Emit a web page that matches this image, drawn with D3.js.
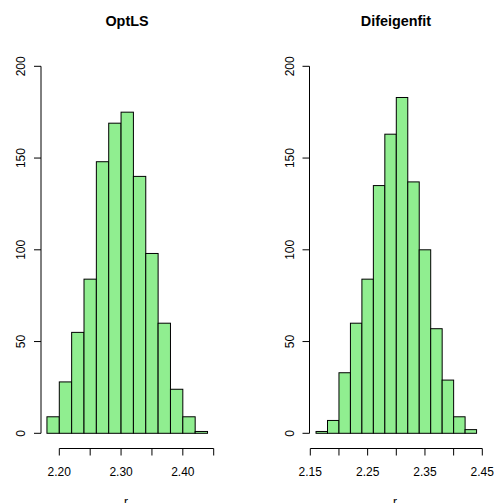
<!DOCTYPE html>
<html>
<head>
<meta charset="utf-8">
<script src="https://cdn.jsdelivr.net/npm/d3@7"></script>
<style>
  body { margin: 0; background: #fff; }
  text { font-family: "Liberation Sans", Arial, sans-serif; }
</style>
</head>
<body>
<svg id="chart" width="494" height="503"></svg>
<script>
// histogram counts (bin width 0.02)
var optlsStart = 2.18;
var optlsCounts = [9, 28, 55, 84, 148, 169, 175, 140, 98, 60, 24, 9, 1];
var difStart = 2.16;
var difCounts = [1, 7, 33, 60, 84, 135, 163, 183, 137, 100, 57, 29, 9, 2];
var binWidth = 0.02;

var titles = ["OptLS", "Difeigenfit"];
var optlsTicks = [2.20, 2.25, 2.30, 2.35, 2.40, 2.45];
var optlsLabels = [2.20, 2.30, 2.40];
var difTicks = [2.15, 2.20, 2.25, 2.30, 2.35, 2.40, 2.45];
var difLabels = [2.15, 2.25, 2.35, 2.45];
var yTicks = [0, 50, 100, 150, 200];

var svg = d3.select("#chart");

var y = d3.scaleLinear().domain([0, 200]).range([433.3, 66.3]);

function bins(start, counts) {
  return counts.map(function(c, i) {
    return { x0: start + i * binWidth, x1: start + (i + 1) * binWidth, n: c };
  });
}

var panels = [
  { title: titles[0], data: bins(optlsStart, optlsCounts), ticks: optlsTicks, labels: optlsLabels,
    x: d3.scaleLinear().domain([2.20, 2.45]).range([59.3, 213.7]), yAxisX: 41, center: 127 },
  { title: titles[1], data: bins(difStart, difCounts), ticks: difTicks, labels: difLabels,
    x: d3.scaleLinear().domain([2.15, 2.45]).range([310.3, 482.3]), yAxisX: 309.5, center: 396 }
];

panels.forEach(function(p) {
  var g = svg.append("g");

  g.selectAll("rect.bar")
    .data(p.data)
    .enter().append("rect")
      .attr("class", "bar")
      .attr("x", function(d) { return p.x(d.x0); })
      .attr("width", function(d) { return p.x(d.x1) - p.x(d.x0); })
      .attr("y", function(d) { return y(d.n); })
      .attr("height", function(d) { return y(0) - y(d.n); })
      .attr("fill", "#90EE90")
      .attr("stroke", "#000")
      .attr("stroke-width", 1);

  // title
  g.append("text")
    .attr("x", p.center).attr("y", 26)
    .attr("text-anchor", "middle")
    .attr("font-size", "14.4px").attr("font-weight", "bold")
    .text(p.title);

  // x axis
  var xa = g.append("g").attr("transform", "translate(0,448.5)");
  xa.append("line")
    .attr("x1", p.x(p.ticks[0])).attr("x2", p.x(p.ticks[p.ticks.length - 1]))
    .attr("stroke", "#000");
  xa.selectAll("line.tick").data(p.ticks).enter().append("line")
    .attr("class", "tick")
    .attr("x1", function(d) { return p.x(d); }).attr("x2", function(d) { return p.x(d); })
    .attr("y1", 0).attr("y2", 7)
    .attr("stroke", "#000");
  xa.selectAll("text").data(p.labels).enter().append("text")
    .attr("x", function(d) { return p.x(d); })
    .attr("y", 27)
    .attr("text-anchor", "middle")
    .attr("font-size", "12px")
    .text(function(d) { return d.toFixed(2); });

  // y axis
  var ya = g.append("g").attr("transform", "translate(" + p.yAxisX + ",0)");
  ya.append("line")
    .attr("y1", y(0)).attr("y2", y(200))
    .attr("stroke", "#000");
  ya.selectAll("line.tick").data(yTicks).enter().append("line")
    .attr("class", "tick")
    .attr("y1", function(d) { return y(d); }).attr("y2", function(d) { return y(d); })
    .attr("x1", 0).attr("x2", -7)
    .attr("stroke", "#000");
  ya.selectAll("text").data(yTicks).enter().append("text")
    .attr("transform", function(d) { return "translate(-16," + y(d) + ") rotate(-90)"; })
    .attr("text-anchor", "middle")
    .attr("font-size", "12px")
    .text(function(d) { return d; });

  // x label (sits at the bottom edge, partly cut off as in the original)
  g.append("text")
    .attr("x", p.center - 1)
    .attr("y", 506)
    .attr("text-anchor", "middle")
    .attr("font-size", "12px")
    .text("r");
});
</script>
</body>
</html>
